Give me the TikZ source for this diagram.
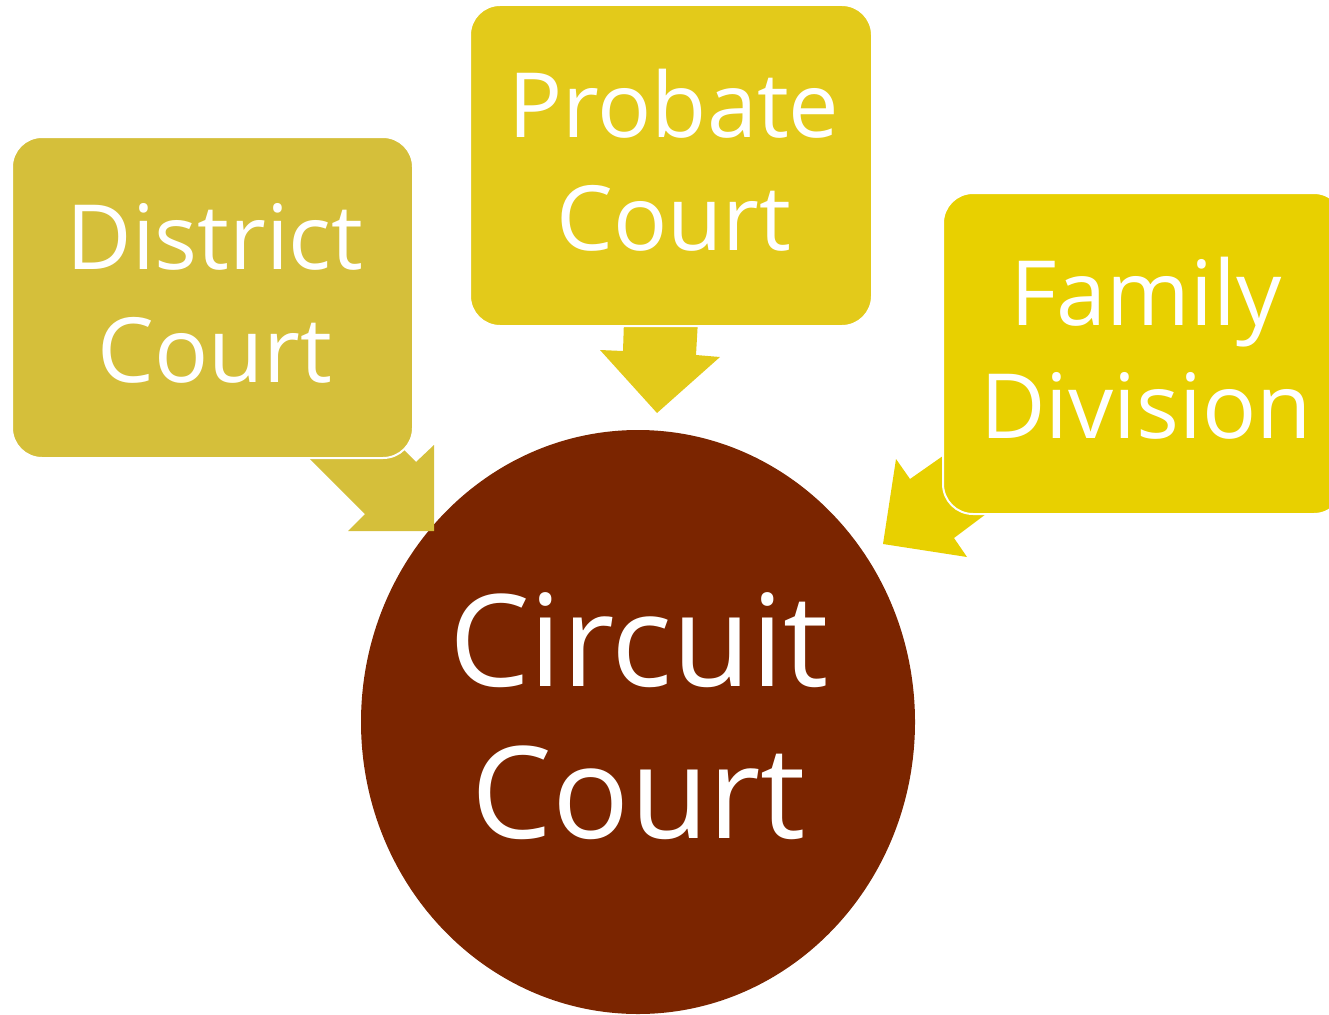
\documentclass[tikz,border=0pt]{standalone}
\usepackage{fontspec}
\setmainfont{Open Sans}
\usetikzlibrary{shapes.geometric}
\definecolor{cDistrict}{RGB}{213,191,58}
\definecolor{cProbate}{RGB}{227,202,26}
\definecolor{cFamily}{RGB}{232,208,0}
\definecolor{cCircuit}{RGB}{123,37,0}
\tikzset{
  courtbox/.style={draw=white, line width=2pt, rounded corners=30pt},
  boxtext/.style={text=white, align=center, inner sep=0pt, anchor=base, font=\fontsize{90}{113}\selectfont},
  circtext/.style={text=white, align=center, inner sep=0pt, anchor=base, font=\fontsize{128}{152}\selectfont},
}
\begin{document}
\begin{tikzpicture}[x=1pt,y=-1pt]
\useasboundingbox (0,0) rectangle (1329,1014);
\clip (0,0) rectangle (1329,1014);
% circle
\node[ellipse, fill=cCircuit, minimum width=554pt, minimum height=584pt, inner sep=0pt] (circuit) at (638,722) {};
% block arrows
\fill[cDistrict] (300,449) -- (365,514) -- (348,531) -- (434,531) -- (434,445) -- (416,462) -- (380,426) -- cycle;
\fill[cProbate] (624,320) -- (623,351) -- (600,350) -- (657,413) -- (720,357) -- (696,355) -- (698,320) -- cycle;
\fill[cFamily] (896,459) -- (910,479) -- (970,437) -- (1010,496) -- (954,538) -- (967,557) -- (883,544) -- cycle;
% boxes
\path[courtbox, fill=cDistrict] (12,137) rectangle (413,458);
\path[courtbox, fill=cProbate] (470,5) rectangle (872,326);
\path[courtbox, fill=cFamily] (943,193) rectangle (1344,514);
% texts (base anchor = baseline of last line)
\node[boxtext] (district) at (215,382) {District\\Court};
\node[boxtext] (probate) at (674,250) {Probate\\Court};
\node[boxtext] (family) at (1146,438) {Family\\Division};
\node[circtext] (circuitT) at (639,838) {Circuit\\Court};
\end{tikzpicture}
\end{document}
